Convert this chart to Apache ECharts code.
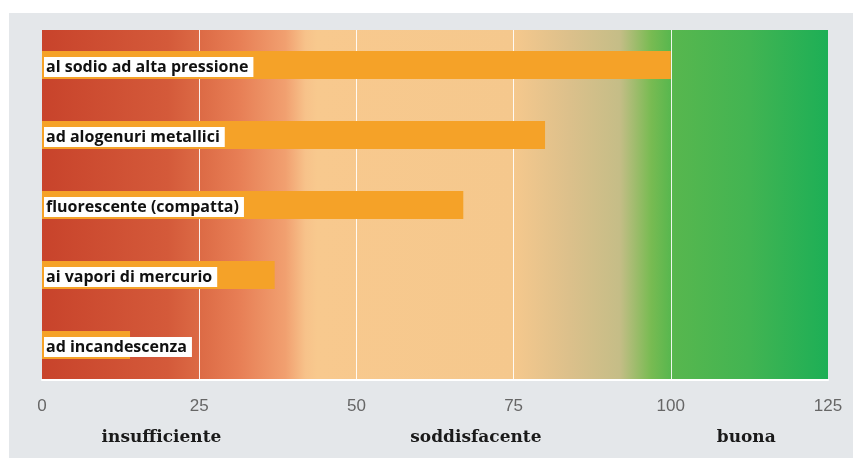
<!DOCTYPE html>
<html>
<head>
<meta charset="utf-8">
<script src="https://cdn.jsdelivr.net/npm/echarts@6/dist/echarts.min.js"></script>
<style>
  html, body { margin: 0; padding: 0; background: #fff; }
  #panel { position: absolute; left: 9px; top: 13px; width: 844px; height: 445px; background: #e4e7ea; }
  #chart { position: absolute; left: 0; top: 0; width: 853px; height: 458px; }
</style>
</head>
<body>
<div id="panel"></div>
<div id="chart"></div>
<script>
// lamp types, top to bottom
const lamps = ['al sodio ad alta pressione', 'ad alogenuri metallici', 'fluorescente (compatta)', 'ai vapori di mercurio', 'ad incandescenza'];
const efficiency = [100, 80, 67, 37, 14];
const ticks = [0, 25, 50, 75, 100, 125];
const ratings = ['insufficiente', 'soddisfacente', 'buona'];
const ratingPos = [19, 69, 112];

const myChart = echarts.init(document.getElementById('chart'));

const bgGradient = new echarts.graphic.LinearGradient(0, 0, 1, 0, [
  { offset: 0, color: '#c8432b' },
  { offset: 0.16, color: '#d45a3a' },
  { offset: 0.2, color: '#dc6a45' },
  { offset: 0.25, color: '#e77e55' },
  { offset: 0.31, color: '#f1a070' },
  { offset: 0.335, color: '#f7c28a' },
  { offset: 0.35, color: '#f8c98e' },
  { offset: 0.6, color: '#f5c88d' },
  { offset: 0.67, color: '#dcc08b' },
  { offset: 0.735, color: '#c5bd87' },
  { offset: 0.775, color: '#78bb52' },
  { offset: 0.8, color: '#58b74e' },
  { offset: 0.9, color: '#42b452' },
  { offset: 1, color: '#1daf56' }
]);

const option = {
  animation: false,
  grid: {
    left: 42,
    right: 25,
    top: 30,
    bottom: 78,
    show: true,
    borderWidth: 0,
    backgroundColor: bgGradient
  },
  xAxis: {
    type: 'value',
    min: 0,
    max: 125,
    interval: 25,
    axisLine: { show: true, lineStyle: { color: '#ffffff', width: 2 } },
    axisTick: { show: false },
    splitLine: {
      show: true,
      showMinLine: false,
      showMaxLine: false,
      lineStyle: { color: 'rgba(255,255,255,0.9)', width: 1 }
    },
    axisLabel: {
      margin: 18,
      color: '#666',
      fontSize: 17,
      fontFamily: 'Liberation Sans Narrow, Liberation Sans, sans-serif',
      formatter: (v) => (ticks.indexOf(v) >= 0 ? String(v) : '')
    }
  },
  yAxis: {
    type: 'category',
    data: lamps,
    inverse: true,
    axisLine: { show: false },
    axisTick: { show: false },
    axisLabel: { show: false },
    splitLine: { show: false }
  },
  series: [
    {
      type: 'bar',
      data: efficiency,
      barWidth: 28,
      itemStyle: { color: '#f5a228' },
      label: {
        show: true,
        position: 'insideLeft',
        distance: 2,
        offset: [0, 2],
        formatter: (p) => p.name,
        color: '#111',
        fontSize: 16,
        fontWeight: 'bold',
        lineHeight: 18,
        fontFamily: 'Open Sans, sans-serif',
        backgroundColor: '#ffffff',
        padding: [2, 5, 0, 2]
      }
    }
  ]
};

option && myChart.setOption(option);

// rating words under the axis, placed at their data positions
const texts = ratings.map((r, i) => {
  const x = myChart.convertToPixel({ xAxisIndex: 0 }, ratingPos[i]);
  return {
    type: 'text',
    x: x,
    y: 438,
    style: {
      text: r,
      fill: '#1a1a1a',
      font: 'bold 17px "DejaVu Serif", serif',
      align: 'center',
      verticalAlign: 'middle'
    }
  };
});
myChart.setOption({ graphic: texts });
</script>
</body>
</html>
